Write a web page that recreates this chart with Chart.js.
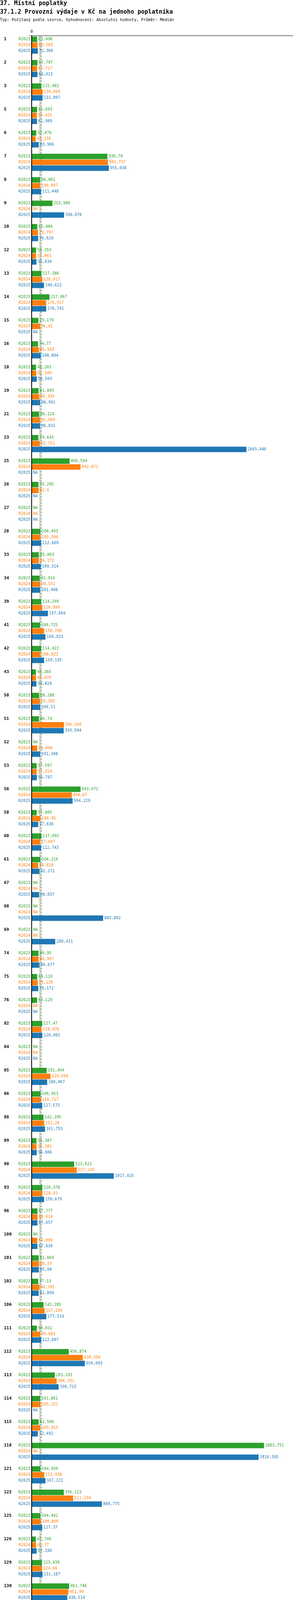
<!DOCTYPE html>
<html lang="cs">
<head>
<meta charset="utf-8">
<title>37.1.2 Provozní výdaje v Kč na jednoho poplatníka</title>
<script src="https://cdn.jsdelivr.net/npm/chart.js@4"></script>
<style>
  html, body { margin: 0; padding: 0; background: #fff; }
  canvas { display: block; }
</style>
</head>
<body>
<canvas id="chart" width="750" height="5312"></canvas>
<script>
const groups = [1, 2, 3, 5, 6, 7, 8, 9, 10, 12, 13, 14, 15, 16, 18, 19, 21, 23, 25, 26, 27, 28, 33, 34, 39, 41, 42, 43, 50, 51, 52, 53, 56, 58, 60, 61, 67, 68, 69, 74, 75, 76, 82, 84, 85, 86, 88, 89, 90, 93, 96, 100, 101, 102, 106, 111, 112, 113, 114, 115, 118, 121, 122, 125, 126, 129, 130, 131, 132, 134, 135, 136, 138, 139, 140, 141, 144, 145, 146, 147, 151, 152, 153, 154, 155];

const r2023 = [63.498, 67.797, 115.982, 62.693, 52.476, 936.79, 98.061, 253.986, 65.484, 50.353, 117.386, 217.067, 79.179, 74.77, 49.203, 81.895, 88.224, 79.643, 466.594, 79.295, null, 104.493, 85.063, 93.914, 114.299, 100.725, 114.422, 48.385, 88.288, 86.74, null, 57.597, 603.672, 57.805, 117.092, 104.214, null, null, null, 80.95, 64.119, 63.129, 127.47, null, 181.454, 106.953, 142.295, 55.387, 523.621, 128.378, 67.777, null, 82.869, 77.13, 143.285, 60.031, 456.874, 283.101, 101.861, 82.506, 2883.751, 104.956, 395.123, 104.442, 47.746, 123.439, 461.746, 1057.109, 65.959, 96.893, 79.618, 110.039, 780.063, 56.522, 317.324, 58.564, 39.824, 153.807, 87.203, 118.591, 72.568, null, null, null, null];

const r2024 = [68.583, 62.727, 130.999, 59.425, 46.135, 943.737, 100.997, null, 73.797, 50.065, 128.017, 175.917, 96.41, 85.543, 52.349, 89.393, 95.569, 93.751, 602.871, 82.6, null, 105.506, 84.172, 99.551, 126.999, 150.768, 106.823, 49.076, 95.265, 396.166, 64.094, 57.254, 494.67, 104.95, 97.607, 76.628, null, null, null, 80.907, 70.139, null, 118.476, null, 229.508, 110.717, 151.28, 55.381, 557.243, 128.93, 68.614, 64.899, 86.55, 90.705, 157.254, 99.683, 630.394, 306.331, 105.252, 103.955, null, 152.038, 511.239, 109.866, 49.77, 124.66, 451.99, 882.532, 74.105, 212.104, 84.101, 116.279, 836.039, 55.877, 50.668, 82.01, 42.994, 212.885, 100.682, 115.947, 76.007, 99.525, 68.015, null, null];

const r2025 = [72.366, 68.013, 131.007, 61.989, 83.906, 955.038, 111.448, 398.078, 76.629, 55.634, 148.612, 176.741, null, 108.804, 58.503, 98.991, 98.832, 2665.446, null, null, null, 112.609, 109.314, 101.408, 197.669, 166.923, 150.135, 54.824, 100.51, 393.504, 101.348, 59.797, 504.229, 77.636, 112.743, 92.171, 88.037, 883.802, 288.411, 90.677, 78.172, null, 128.083, null, 188.467, 127.575, 161.753, 58.006, 1017.025, 150.679, 67.657, 67.636, 85.08, 82.809, 177.514, 112.897, 656.093, 330.723, null, 72.492, 2816.585, 167.221, 868.775, 127.37, 57.196, 131.187, 438.514, 846.656, 73.998, 1719.214, 82.141, 124.922, 1022.663, 62.582, 48.916, 89.121, 44.516, 114.454, null, 88.361, 88.831, 74.64, 70.28, 197.262, 606.819];

const seriesNames = ['R2023', 'R2024', 'R2025'];
const seriesTitles = ['Realita - 2023', 'Realita - 2024', 'Realita - 2025'];
const seriesColors = ['#2ca02c', '#ff7f0e', '#1f77b4'];

const titleLines = [
  '37. Místní poplatky',
  '37.1.2 Provozní výdaje v Kč na jednoho poplatníka',
  'Typ: Počítaný podle vzorce, Vyhodnocení: Absolutní hodnoty, Průměr: Medián'
];

window.addEventListener('DOMContentLoaded', () => {
  try {
    const MONO = '"DejaVu Sans Mono", "Liberation Mono", monospace';
    const series = [r2023, r2024, r2025];

    const fmt = v => String(Math.round(v * 1000) / 1000).replace('.', ',');

    function median(arr) {
      const s = arr.filter(v => v !== null).sort((a, b) => a - b);
      const m = Math.floor(s.length / 2);
      return s.length % 2 ? s[m] : (s[m - 1] + s[m]) / 2;
    }
    const stats = series.map(arr => {
      const vals = arr.filter(v => v !== null);
      return { med: median(arr), min: Math.min(...vals), max: Math.max(...vals) };
    });
    const xMax = Math.max(...stats.map(s => s.max)) * 1.125;

    // every group = 3 bar rows + 1 empty row
    const rowLabels = [];
    const rowData = [[], [], []];
    groups.forEach((g, gi) => {
      for (let r = 0; r < 4; r++) {
        rowLabels.push(g + '_' + r);
        series.forEach((vals, si) => rowData[si].push(r === si ? vals[gi] : null));
      }
    });

    const decorPlugin = {
      id: 'decor',
      beforeDatasetsDraw(chart) {
        const { ctx, chartArea: a, scales: { x } } = chart;
        ctx.save();
        ctx.lineWidth = 1.5;
        stats.forEach((s, i) => {
          const px = Math.round(x.getPixelForValue(s.med)) + 0.5;
          ctx.strokeStyle = seriesColors[i];
          ctx.setLineDash([4, 4]);
          ctx.lineDashOffset = i * 3;
          ctx.beginPath();
          ctx.moveTo(px, a.top - 1);
          ctx.lineTo(px, a.bottom);
          ctx.stroke();
        });
        ctx.restore();
      },
      afterDraw(chart) {
        const { ctx, chartArea: a, scales: { x, y } } = chart;
        ctx.save();
        ctx.textBaseline = 'middle';

        // titles
        ctx.fillStyle = '#000';
        ctx.textAlign = 'left';
        ctx.font = 'bold 15px ' + MONO;
        ctx.fillText(titleLines[0], 0, 9);
        ctx.fillText(titleLines[1], 0, 31);
        ctx.font = '10px ' + MONO;
        ctx.fillText(titleLines[2], 0, 51);

        // axes
        ctx.textAlign = 'center';
        ctx.fillText('0', x.getPixelForValue(0) - 1, 81);
        ctx.strokeStyle = '#000';
        ctx.lineWidth = 1;
        ctx.beginPath();
        ctx.moveTo(75, a.top - 1.5);
        ctx.lineTo(750, a.top - 1.5);
        ctx.stroke();
        ctx.lineWidth = 2;
        ctx.beginPath();
        ctx.moveTo(a.left - 1, a.top - 1.5);
        ctx.lineTo(a.left - 1, a.bottom);
        ctx.stroke();

        // row labels and value labels
        groups.forEach((g, gi) => {
          const y0 = y.getPixelForValue(gi * 4);
          ctx.fillStyle = '#000';
          ctx.textAlign = 'left';
          ctx.font = 'bold 11px ' + MONO;
          ctx.fillText(String(g), 10, y0);
          ctx.font = '10px ' + MONO;
          series.forEach((vals, si) => {
            const yy = y.getPixelForValue(gi * 4 + si);
            ctx.fillStyle = seriesColors[si];
            ctx.textAlign = 'right';
            ctx.fillText(seriesNames[si], 77.5, yy);
            ctx.textAlign = 'left';
            const v = vals[gi];
            if (v === null) {
              ctx.fillText('NA', a.left + 2.5, yy);
            } else {
              ctx.fillText(fmt(v), x.getPixelForValue(v) + 3, yy);
            }
          });
        });

        // legend and stats
        ctx.font = '10px ' + MONO;
        ctx.textAlign = 'left';
        const legPos = [[80, 5214], [381, 5214], [80, 5234]];
        seriesNames.forEach((n, i) => {
          ctx.fillStyle = seriesColors[i];
          ctx.fillText('Období[' + n + ']: ' + seriesTitles[i], legPos[i][0], legPos[i][1]);
        });
        stats.forEach((s, i) => {
          const yy = 5254 + i * 20;
          ctx.fillStyle = seriesColors[i];
          ctx.fillText('Medián: ' + fmt(s.med), 80, yy);
          ctx.fillText('Min: ' + fmt(s.min), 331, yy);
          ctx.fillText('Max: ' + fmt(s.max), 532, yy);
        });
        ctx.restore();
      }
    };

    new Chart(document.getElementById('chart'), {
      type: 'bar',
      data: {
        labels: rowLabels,
        datasets: seriesNames.map((n, i) => ({
          label: n,
          data: rowData[i],
          backgroundColor: seriesColors[i],
          borderWidth: 0,
          barPercentage: 0.93,
          categoryPercentage: 1
        }))
      },
      options: {
        indexAxis: 'y',
        responsive: false,
        animation: false,
        devicePixelRatio: 1,
        layout: { padding: { left: 82, top: 93, right: 0, bottom: 119 } },
        plugins: {
          legend: { display: false },
          tooltip: { enabled: false }
        },
        scales: {
          x: { display: false, stacked: true, min: 0, max: xMax },
          y: { display: false, stacked: true }
        }
      },
      plugins: [decorPlugin]
    });

    console.log('Chart drawn:', groups.length, 'groups');
  } catch (error) {
    console.error('Error creating chart:', error);
  }
});
</script>
</body>
</html>
